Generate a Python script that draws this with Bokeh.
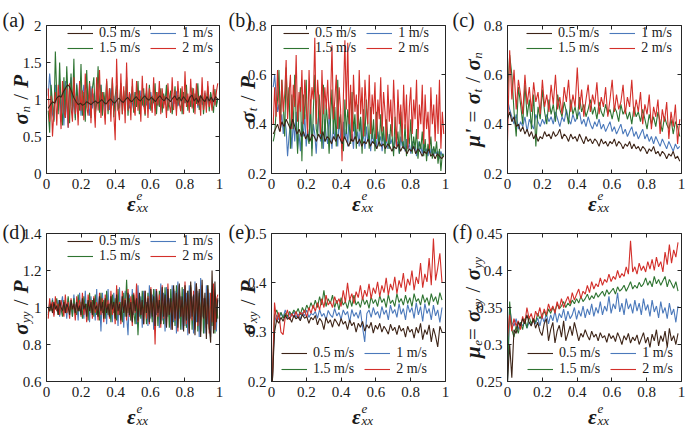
import numpy as np
from bokeh.plotting import figure
from bokeh.models import Range1d, LinearAxis, Label, Legend, LegendItem, FixedTicker, CustomJSTickFormatter
from bokeh.layouts import column, row
from bokeh.embed import file_html
from bokeh.resources import INLINE

# ---------------- data ----------------
speeds = ["0.5 m/s", "1 m/s", "1.5 m/s", "2 m/s"]
x_ticks = [0, 0.2, 0.4, 0.6, 0.8, 1]

# (a) sigma_n / P
a_05 = [0.88,0.93,0.97,0.95,1.02,1.05,1.03,1.10,1.15,1.20,1.17,1.10,1.02,0.97,0.93,0.95,0.92,0.94,0.97,0.95,
        0.93,0.96,0.98,0.95,0.97,1.00,0.96,0.94,0.98,1.01,0.97,0.95,0.99,1.02,0.98,0.96,1.00,1.03,0.99,0.97,
        1.01,1.04,1.00,0.98,1.02,1.05,1.01,0.99,1.03,1.00,0.97,1.02,1.05,1.01,0.98,1.03,1.00,0.97,1.02,1.05,
        0.99,1.03,0.98,1.04,1.00,0.96,1.03,1.06,0.98,1.02,0.96,1.05,1.00,0.97,1.04,0.98,1.03,0.97,1.04,1.00]
a_1 = [1.05,1.35,1.10,0.80,0.72,1.20,1.02,0.85,1.28,0.70,1.10,0.65,1.25,0.90,0.62,1.15,1.30,0.80,1.00,0.75,
       1.22,0.85,1.18,0.78,1.05,1.20,0.82,1.12,0.92,0.78,1.18,0.88,1.08,0.80,1.15,0.95,0.84,1.20,0.90,1.05,
       0.82,1.12,0.96,0.86,1.15,0.92,1.05,0.84,1.10,0.95,0.88,1.14,0.92,1.02,0.85,1.12,0.94,0.88,1.08,0.96,
       0.86,1.10,0.93,1.04,0.88,1.12,0.95,0.90,1.08,0.92,1.02,0.87,1.10,0.94,0.98,0.88,1.06,0.92,1.12,0.95,
       0.88,1.05,0.93,1.10,0.90,0.97,1.08,0.89,1.03,0.94,1.11,0.91,0.98,1.06,0.88,1.04,0.95,1.10,0.92,0.99,
       1.07,0.90,1.02,0.94,1.12,0.89,1.00,1.06,0.93,0.97,1.09,0.91,1.03,0.95,1.08,0.92,0.99,1.05,0.93,1.01]
a_15 = [0.85,0.55,1.20,0.95,0.70,1.65,1.05,0.80,1.50,0.90,0.65,1.30,0.75,1.45,1.00,0.68,1.35,0.85,1.55,0.72,
        1.20,0.95,0.85,1.48,0.78,1.10,0.70,1.40,0.88,1.25,0.75,1.15,1.30,0.80,0.95,1.45,0.82,1.20,0.78,1.10,
        0.92,1.25,0.80,1.15,0.88,1.28,0.76,1.05,1.20,0.85,0.95,1.22,0.80,1.12,0.90,1.30,0.78,1.08,0.95,1.18,
        0.82,1.10,0.90,1.25,0.80,1.05,0.92,1.15,0.78,1.12,0.88,1.20,0.85,1.05,0.95,1.22,0.80,1.10,0.90,1.15,
        0.82,1.08,0.95,1.20,0.85,1.02,1.12,0.80,0.98,1.18,0.86,1.06,0.92,1.15,0.80,1.10,0.95,1.20,0.85,1.04,
        0.90,1.16,0.82,1.08,0.94,1.22,0.86,1.00,1.12,0.80,1.06,0.92,1.18,0.84,1.10,0.96,0.82,1.14,0.90,1.02]
a_2 = [1.15,0.70,1.05,0.50,0.85,1.10,0.65,1.20,0.95,0.60,1.25,0.85,0.75,1.15,0.62,1.22,0.90,0.70,1.30,0.80,
       1.05,0.65,1.25,0.85,1.12,0.72,1.35,0.90,0.78,1.22,0.68,1.15,0.95,0.62,1.30,0.85,1.40,0.75,1.10,0.92,
       0.66,1.28,0.85,1.15,0.70,1.30,0.82,0.45,1.55,0.88,0.72,1.35,0.80,1.18,0.68,1.50,0.85,1.10,0.72,1.28,
       0.90,0.78,1.25,0.85,1.12,0.70,1.32,0.92,0.80,1.22,0.75,1.15,0.95,0.82,1.30,0.78,1.10,0.92,1.25,0.80,
       1.15,0.88,1.05,0.75,1.22,0.92,0.82,1.30,0.86,1.12,0.78,1.25,0.95,0.84,1.18,0.80,1.38,0.90,1.08,0.82,
       1.28,0.88,1.15,0.80,1.22,0.92,1.05,0.78,1.30,0.86,1.12,0.82,1.25,0.90,1.02,0.85,1.20,0.92,1.10,1.22]

# (b) sigma_t / P
b_05 = [0.36,0.38,0.40,0.37,0.41,0.39,0.42,0.40,0.38,0.42,0.39,0.36,0.38,0.35,0.37,0.34,0.36,0.33,0.36,0.35,
        0.33,0.36,0.34,0.37,0.33,0.35,0.34,0.32,0.35,0.33,0.36,0.34,0.32,0.35,0.33,0.31,0.34,0.33,0.35,0.32,
        0.34,0.31,0.33,0.32,0.34,0.31,0.33,0.32,0.30,0.33,0.31,0.32,0.30,0.32,0.31,0.29,0.31,0.30,0.32,0.29,
        0.31,0.30,0.28,0.30,0.29,0.31,0.28,0.30,0.29,0.27,0.29,0.28,0.30,0.27,0.28,0.26,0.28,0.27,0.26,0.27]
b_1 = [0.55,0.60,0.52,0.45,0.48,0.40,0.44,0.36,0.42,0.38,0.27,0.35,0.40,0.30,0.42,0.33,0.45,0.30,0.36,0.29,
       0.41,0.35,0.44,0.31,0.38,0.33,0.46,0.30,0.40,0.36,0.28,0.39,0.45,0.33,0.37,0.30,0.42,0.35,0.32,0.44,
       0.36,0.30,0.40,0.34,0.38,0.31,0.43,0.35,0.30,0.41,0.34,0.38,0.31,0.45,0.33,0.36,0.30,0.40,0.34,0.37,
       0.31,0.42,0.33,0.36,0.30,0.39,0.33,0.35,0.29,0.38,0.32,0.36,0.30,0.37,0.33,0.35,0.29,0.36,0.31,0.34,
       0.30,0.36,0.32,0.34,0.29,0.35,0.31,0.33,0.28,0.35,0.31,0.33,0.29,0.34,0.30,0.32,0.28,0.33,0.30,0.31,
       0.27,0.33,0.29,0.31,0.28,0.32,0.29,0.30,0.27,0.31,0.28,0.30,0.27,0.30,0.28,0.29,0.26,0.29,0.27,0.28]
b_15 = [0.33,0.36,0.45,0.50,0.62,0.40,0.58,0.48,0.35,0.63,0.45,0.55,0.30,0.52,0.38,0.60,0.42,0.28,0.48,0.55,
        0.25,0.52,0.42,0.58,0.35,0.32,0.50,0.27,0.46,0.60,0.38,0.35,0.52,0.44,0.30,0.56,0.33,0.48,0.40,0.28,
        0.42,0.54,0.36,0.47,0.31,0.58,0.38,0.44,0.34,0.29,0.50,0.36,0.46,0.40,0.32,0.53,0.37,0.44,0.30,0.48,
        0.37,0.43,0.28,0.46,0.35,0.50,0.40,0.30,0.47,0.34,0.42,0.29,0.45,0.36,0.31,0.44,0.33,0.39,0.28,0.42,
        0.34,0.30,0.40,0.35,0.27,0.43,0.32,0.37,0.28,0.45,0.33,0.30,0.40,0.27,0.36,0.32,0.42,0.28,0.35,0.30,
        0.38,0.26,0.33,0.30,0.37,0.27,0.34,0.25,0.32,0.29,0.35,0.26,0.31,0.28,0.33,0.24,0.30,0.21,0.28,0.27]
b_2 = [0.40,0.55,0.43,0.62,0.48,0.37,0.58,0.45,0.52,0.66,0.42,0.52,0.60,0.38,0.56,0.47,0.68,0.41,0.53,0.45,
       0.62,0.40,0.58,0.48,0.36,0.62,0.44,0.55,0.50,0.75,0.40,0.58,0.48,0.36,0.62,0.44,0.55,0.46,0.58,0.42,
       0.50,0.72,0.42,0.50,0.60,0.38,0.55,0.46,0.25,0.52,0.74,0.46,0.73,0.40,0.56,0.33,0.60,0.45,0.52,0.38,
       0.62,0.44,0.55,0.35,0.58,0.47,0.40,0.60,0.36,0.52,0.44,0.57,0.34,0.50,0.42,0.59,0.37,0.53,0.45,0.33,
       0.56,0.41,0.50,0.35,0.58,0.43,0.31,0.54,0.40,0.48,0.33,0.56,0.38,0.52,0.30,0.47,0.55,0.36,0.50,0.42,
       0.58,0.34,0.48,0.40,0.56,0.32,0.52,0.38,0.45,0.30,0.55,0.40,0.48,0.33,0.52,0.36,0.58,0.30,0.45,0.36]

# (c) mu' = sigma_t / sigma_n
c_05 = [0.42,0.45,0.41,0.43,0.39,0.40,0.37,0.39,0.36,0.38,0.35,0.37,0.34,0.36,0.33,0.35,0.34,0.37,0.35,0.36,
        0.34,0.37,0.35,0.36,0.38,0.34,0.36,0.35,0.33,0.36,0.34,0.35,0.33,0.36,0.34,0.32,0.35,0.33,0.34,0.32,
        0.34,0.33,0.31,0.34,0.32,0.33,0.31,0.33,0.32,0.34,0.31,0.33,0.32,0.30,0.32,0.31,0.33,0.30,0.32,0.30,
        0.31,0.29,0.31,0.30,0.28,0.30,0.29,0.31,0.28,0.29,0.27,0.29,0.28,0.26,0.28,0.27,0.29,0.26,0.27,0.25]
c_1 = [0.50,0.46,0.43,0.40,0.44,0.38,0.41,0.39,0.43,0.37,0.42,0.40,0.38,0.44,0.41,0.39,0.42,0.40,0.44,0.41,
       0.43,0.40,0.45,0.42,0.39,0.43,0.41,0.46,0.42,0.40,0.44,0.41,0.43,0.45,0.40,0.42,0.39,0.43,0.40,0.38,
       0.41,0.39,0.42,0.38,0.40,0.37,0.39,0.41,0.37,0.39,0.36,0.38,0.40,0.36,0.38,0.35,0.37,0.39,0.35,0.37,
       0.34,0.36,0.38,0.34,0.36,0.33,0.35,0.32,0.35,0.33,0.31,0.34,0.32,0.30,0.33,0.31,0.29,0.32,0.30,0.31]
c_15 = [0.52,0.68,0.60,0.45,0.35,0.55,0.48,0.40,0.56,0.43,0.50,0.38,0.52,0.31,0.47,0.42,0.54,0.45,0.40,0.50,
        0.44,0.48,0.41,0.52,0.46,0.43,0.49,0.45,0.40,0.50,0.44,0.47,0.42,0.51,0.45,0.48,0.43,0.46,0.50,0.44,
        0.47,0.42,0.49,0.45,0.43,0.48,0.44,0.46,0.42,0.47,0.45,0.41,0.48,0.44,0.46,0.42,0.45,0.40,0.47,0.43,
        0.45,0.41,0.46,0.42,0.38,0.44,0.40,0.43,0.39,0.45,0.41,0.37,0.43,0.40,0.38,0.42,0.36,0.41,0.39,0.35]
c_2 = [0.33,0.70,0.50,0.62,0.46,0.58,0.52,0.44,0.60,0.48,0.55,0.45,0.57,0.49,0.53,0.44,0.58,0.47,0.52,0.45,
       0.56,0.48,0.60,0.46,0.51,0.44,0.55,0.49,0.58,0.45,0.52,0.47,0.63,0.46,0.54,0.43,0.50,0.56,0.45,0.52,
       0.48,0.57,0.44,0.51,0.47,0.55,0.43,0.50,0.58,0.45,0.52,0.46,0.49,0.56,0.44,0.51,0.47,0.58,0.43,0.50,
       0.45,0.53,0.40,0.48,0.44,0.52,0.38,0.47,0.43,0.50,0.36,0.46,0.41,0.49,0.34,0.45,0.39,0.48,0.32,0.42]

# (d) sigma_yy / P
d_05 = [1.00,0.98,1.02,0.97,1.03,0.99,1.01,0.96,1.04,1.00,0.98,1.03,0.97,1.02,1.00,0.96,1.04,0.99,1.02,0.97,
        1.03,0.98,1.01,0.96,1.05,0.99,1.02,0.95,1.04,0.98,1.03,0.96,1.05,0.99,1.01,0.95,1.06,0.98,1.03,0.94,
        1.05,0.97,1.02,0.95,1.06,0.99,1.03,0.94,1.07,0.98,1.02,0.93,1.06,0.97,1.04,0.95,1.08,0.96,1.03,0.92,
        1.07,0.98,1.05,0.93,1.08,0.96,1.04,0.91,1.09,0.97,1.05,0.92,1.10,0.95,1.06,0.90,1.09,0.97,1.04,0.91,
        1.11,0.95,1.07,0.89,1.10,0.96,1.05,0.88,1.12,0.94,1.08,0.89,1.13,0.95,1.06,0.87,1.12,0.93,1.09,0.86,
        1.14,0.95,1.07,0.85,1.13,0.92,1.10,0.84,1.15,0.94,1.08,0.83,1.12,0.90,0.81,1.20,0.86,1.14,0.92,1.05]
d_1 = [0.97,1.03,0.99,1.05,0.96,1.02,0.98,1.04,0.95,1.01,1.06,0.97,1.03,0.94,1.05,0.99,1.02,0.95,1.07,0.98,
       1.04,0.93,1.08,0.97,1.02,0.94,1.09,0.96,1.03,0.92,1.06,0.98,1.04,0.93,1.10,0.95,1.06,0.87,1.08,0.97,
       1.04,0.91,1.10,0.95,1.06,0.92,1.08,0.97,1.03,0.90,1.11,0.94,1.06,0.89,1.09,0.96,0.85,1.07,0.93,1.10,
       0.96,1.04,0.91,1.12,0.95,1.06,0.89,1.09,0.97,1.03,0.90,1.12,0.94,1.07,0.88,1.10,0.96,1.04,0.89,1.13,
       0.93,1.08,0.87,1.11,0.95,1.05,0.88,1.12,0.92,1.09,0.86,1.14,0.94,1.06,0.88,1.10,0.90,1.08,0.85,1.12,
       0.94,1.06,0.86,1.14,0.92,1.09,0.84,1.16,0.95,1.05,0.86,1.12,0.91,1.08,0.84,1.10,0.93,1.05,0.87,1.04]
d_15 = [0.96,1.02,0.98,1.04,0.97,1.01,1.05,0.96,1.03,0.99,0.95,1.04,1.00,0.97,1.06,0.98,1.02,0.95,1.05,0.99,
        0.96,1.07,0.98,1.03,0.94,1.06,0.99,1.02,0.93,1.08,0.97,1.04,0.95,1.07,0.96,1.02,0.93,1.08,0.97,1.04,
        0.94,1.09,0.96,1.02,0.92,1.07,0.97,1.05,0.93,1.10,0.96,1.03,0.92,1.08,0.95,1.15,0.97,1.05,0.93,1.07,
        0.98,0.91,1.06,0.85,1.04,0.94,1.09,0.97,1.03,0.91,1.08,0.96,1.04,0.92,1.10,0.95,1.06,0.90,1.09,0.97,
        1.03,0.91,1.11,0.94,1.06,0.89,1.10,0.96,1.04,0.90,1.12,0.93,1.07,0.88,1.11,0.95,1.05,0.89,1.09,0.94,
        1.12,0.88,1.06,0.91,1.13,0.87,1.08,0.93,1.10,0.86,1.05,0.92,1.12,0.88,1.07,0.90,1.11,0.86,1.04,0.94]
d_2 = [0.94,1.05,0.99,1.03,0.95,1.06,0.98,1.02,0.96,1.04,1.00,0.95,1.07,0.97,1.03,0.94,1.05,0.99,1.02,0.93,
       1.06,0.98,1.04,0.95,1.08,0.96,1.02,0.92,1.07,0.99,1.04,0.94,1.06,0.97,1.03,0.93,1.08,0.96,1.05,0.92,
       1.07,0.98,1.04,0.94,1.09,0.96,1.02,0.91,1.12,0.96,1.03,0.91,1.09,0.98,1.05,0.93,1.10,0.95,1.06,0.90,
       1.08,0.97,1.13,0.92,1.05,0.96,1.03,0.91,1.09,0.94,1.06,0.91,1.11,0.97,1.04,0.80,1.10,0.95,1.07,0.89,
       1.12,0.94,1.05,0.90,1.13,0.96,1.03,0.88,1.10,0.93,1.08,0.87,1.12,0.95,1.04,0.89,1.14,0.91,1.07,0.86,
       1.11,0.93,1.09,0.88,1.13,0.90,1.06,0.87,1.12,0.94,1.05,0.89,1.10,0.86,1.08,0.92,1.13,0.88,1.04,1.07]

# (e) sigma_xy / P  (first samples drop to the bottom edge)
e_05 = [0.200,0.300,0.325,0.318,0.330,0.322,0.335,0.326,0.330,0.320,0.334,0.327,0.331,0.323,0.336,0.328,0.332,0.318,0.330,0.325,
        0.334,0.315,0.328,0.322,0.305,0.330,0.318,0.325,0.310,0.327,0.320,0.312,0.328,0.316,0.322,0.305,0.325,0.313,0.320,0.300,
        0.318,0.310,0.322,0.302,0.315,0.308,0.320,0.298,0.314,0.306,0.318,0.300,0.312,0.305,0.296,0.316,0.303,0.310,0.295,0.314,
        0.302,0.308,0.290,0.312,0.300,0.306,0.288,0.310,0.298,0.318,0.285,0.305,0.295,0.315,0.280,0.308,0.292,0.270,0.312,0.300]
e_1 = [0.200,0.320,0.335,0.325,0.340,0.330,0.345,0.328,0.338,0.332,0.342,0.330,0.337,0.326,0.340,0.333,0.345,0.330,0.338,0.335,
       0.342,0.328,0.346,0.332,0.338,0.325,0.344,0.335,0.330,0.348,0.333,0.340,0.326,0.345,0.335,0.342,0.320,0.346,0.332,0.340,
       0.328,0.345,0.310,0.280,0.338,0.345,0.330,0.350,0.335,0.342,0.328,0.352,0.336,0.345,0.325,0.355,0.338,0.346,0.330,0.358,
       0.336,0.348,0.325,0.356,0.340,0.350,0.328,0.360,0.335,0.352,0.322,0.358,0.338,0.348,0.325,0.355,0.333,0.345,0.320,0.350]
e_15 = [0.200,0.335,0.345,0.330,0.340,0.328,0.338,0.332,0.342,0.335,0.345,0.338,0.348,0.335,0.350,0.340,0.355,0.345,0.360,0.348,
        0.365,0.350,0.372,0.355,0.385,0.352,0.368,0.358,0.375,0.350,0.365,0.345,0.370,0.355,0.362,0.348,0.368,0.352,0.375,0.355,
        0.362,0.350,0.370,0.356,0.365,0.348,0.372,0.358,0.366,0.352,0.374,0.360,0.368,0.350,0.376,0.358,0.365,0.352,0.378,0.360,
        0.368,0.355,0.375,0.358,0.370,0.352,0.378,0.362,0.368,0.355,0.376,0.360,0.370,0.354,0.378,0.362,0.372,0.356,0.380,0.365]
e_2 = [0.200,0.360,0.320,0.340,0.300,0.295,0.330,0.345,0.325,0.338,0.330,0.342,0.328,0.340,0.335,0.345,0.330,0.350,0.338,0.355,
       0.342,0.360,0.345,0.368,0.350,0.375,0.355,0.362,0.350,0.372,0.358,0.368,0.352,0.385,0.360,0.400,0.365,0.378,0.358,0.382,
       0.370,0.395,0.365,0.385,0.372,0.398,0.368,0.390,0.378,0.402,0.372,0.395,0.380,0.410,0.375,0.398,0.385,0.412,0.378,0.405,
       0.390,0.420,0.382,0.408,0.395,0.425,0.385,0.412,0.398,0.440,0.390,0.418,0.402,0.450,0.395,0.490,0.405,0.430,0.460,0.400]

# (f) mu_e = sigma_xy / sigma_yy
f_05 = [0.250,0.300,0.255,0.320,0.315,0.330,0.325,0.335,0.328,0.340,0.330,0.325,0.335,0.322,0.330,0.318,0.312,0.328,0.335,0.305,
        0.320,0.330,0.302,0.318,0.326,0.310,0.332,0.305,0.315,0.325,0.312,0.330,0.318,0.305,0.315,0.310,0.320,0.312,0.306,0.318,
        0.310,0.314,0.305,0.316,0.309,0.312,0.303,0.315,0.308,0.312,0.304,0.316,0.309,0.300,0.312,0.306,0.315,0.302,0.310,0.305,
        0.313,0.300,0.308,0.316,0.302,0.310,0.296,0.314,0.305,0.320,0.298,0.312,0.304,0.318,0.296,0.322,0.305,0.312,0.300,0.315]
f_1 = [0.250,0.350,0.330,0.325,0.335,0.320,0.330,0.325,0.332,0.322,0.330,0.326,0.334,0.328,0.336,0.325,0.338,0.330,0.342,0.328,
       0.340,0.332,0.345,0.330,0.342,0.336,0.348,0.332,0.345,0.335,0.340,0.350,0.334,0.346,0.338,0.352,0.336,0.348,0.340,0.355,
       0.338,0.350,0.342,0.358,0.340,0.352,0.345,0.365,0.342,0.355,0.348,0.370,0.344,0.356,0.340,0.362,0.348,0.355,0.342,0.360,
       0.345,0.356,0.340,0.362,0.346,0.354,0.338,0.360,0.344,0.352,0.336,0.358,0.342,0.350,0.335,0.356,0.340,0.348,0.330,0.352]
f_15 = [0.250,0.358,0.320,0.310,0.325,0.315,0.330,0.320,0.335,0.322,0.338,0.328,0.335,0.330,0.342,0.335,0.340,0.345,0.338,0.348,
        0.342,0.350,0.345,0.355,0.348,0.352,0.358,0.350,0.356,0.352,0.360,0.355,0.362,0.356,0.365,0.358,0.362,0.368,0.360,0.366,
        0.362,0.370,0.364,0.368,0.372,0.365,0.374,0.368,0.372,0.376,0.368,0.378,0.372,0.375,0.380,0.372,0.378,0.385,0.375,0.380,
        0.376,0.384,0.378,0.382,0.390,0.380,0.386,0.378,0.392,0.382,0.388,0.380,0.386,0.392,0.378,0.388,0.382,0.376,0.385,0.372]
f_2 = [0.310,0.340,0.318,0.335,0.325,0.332,0.320,0.338,0.328,0.350,0.335,0.342,0.330,0.345,0.338,0.350,0.335,0.348,0.340,0.355,
       0.345,0.352,0.342,0.358,0.348,0.362,0.350,0.358,0.365,0.355,0.370,0.360,0.368,0.375,0.362,0.372,0.368,0.380,0.370,0.385,
       0.375,0.382,0.378,0.390,0.380,0.388,0.384,0.395,0.385,0.392,0.388,0.400,0.390,0.396,0.392,0.405,0.395,0.440,0.398,0.405,
       0.395,0.410,0.400,0.406,0.398,0.412,0.402,0.415,0.400,0.418,0.405,0.412,0.398,0.425,0.408,0.435,0.410,0.428,0.418,0.438]

# ---------------- style ----------------
COLORS = {"0.5 m/s": "#3d2417", "1 m/s": "#4b79bb", "1.5 m/s": "#2e7431", "2 m/s": "#d32f2a"}
SERIF = "Liberation Serif"
TXT = "#1a1a1a"
FRAME = "#262626"
# per column: figure width, space left of the axes box, box width, space right
CW = [228, 224, 233]; BL = [46, 43, 55]; FW = [173, 174, 174]; BR = [9, 7, 4]
# per row: figure height, space above box, space below box
RH = [213, 213]; BT = [25, 20]; BB = [40, 45]; FH = 148

WID = {'σ': 0.56, 'μ': 0.58, 'P': 0.62, 'ε': 0.45, '/': 0.28, ' ': 0.3, '=': 0.56, "'": 0.28,
       'n': 0.5, 't': 0.28, 'e': 0.44, 'x': 0.44, 'y': 0.44}


def tw(s, size):
    return sum(WID.get(ch, 0.5) for ch in s) * size


def put(p, c, yr, text, px, py, size, style, angle):
    if not text.strip():
        return
    sx = 1.0 / FW[c]
    sy = (yr[1] - yr[0]) / FH
    p.add_layout(Label(x=px * sx, y=yr[0] + py * sy, x_units="data", y_units="data",
                       text=text, angle=angle, text_font=SERIF, text_font_size=f"{size}px",
                       text_font_style=style, text_color=TXT, text_baseline="alphabetic",
                       text_align="left"))


def rich(p, c, yr, pieces, center, base, vertical):
    """pieces: (text, style, size, shift_px, advance); blank pieces only advance"""
    pos = []
    cur = 0.0
    for t, st, sz, sh, adv in pieces:
        pos.append(cur)
        if adv:
            cur += tw(t, sz)
    start = center - cur / 2
    for (t, st, sz, sh, adv), d in zip(pieces, pos):
        if vertical:
            put(p, c, yr, t, base - sh, start + d, sz, st, np.pi / 2)
        else:
            put(p, c, yr, t, start + d, base + sh, sz, st, 0)


F = 21
S = 13
BI = "bold italic"
IT = "italic"
NO = "normal"
GAP = (" ", NO, F, 0, True)


def sig_over_P(sub):
    return [("σ", BI, F, 0, True), (sub, IT, S, -5, True), GAP, ("/", NO, F, 0, True), GAP,
            ("P", BI, F, 0, True)]


YLABELS = {
    "a": sig_over_P("n"),
    "b": sig_over_P("t"),
    "c": [("μ", BI, F, 0, True), ("'", BI, F, 0, True), GAP, ("=", NO, F, 0, True), GAP,
          ("σ", BI, F, 0, True), ("t", IT, S, -5, True), GAP, ("/", NO, F, 0, True), GAP,
          ("σ", BI, F, 0, True), ("n", IT, S, -5, True)],
    "d": sig_over_P("yy"),
    "e": sig_over_P("xy"),
    "f": [("μ", BI, F, 0, True), ("e", IT, S, -5, True), ("=", NO, F, 0, True), GAP,
          ("σ", BI, F, 0, True), ("xy", IT, S, -5, True), GAP, ("/", NO, F, 0, True), GAP,
          ("σ", BI, F, 0, True), ("yy", IT, S, -5, True)],
}
XLABEL = [("ε", BI, F, 0, True), ("e", IT, S, 8, False), ("xx", IT, S, -4, True)]


def make_panel(key, c, r, yr, yticks, series, x0, x1, leg_x, leg_top):
    dx = 1.0 / FW[c]
    dy = (yr[1] - yr[0]) / FH
    p = figure(width=CW[c], height=RH[r],
               x_range=Range1d(-BL[c] * dx, 1 + BR[c] * dx),
               y_range=Range1d(yr[0] - BB[r] * dy, yr[1] + BT[r] * dy),
               x_axis_location=None, y_axis_location=None,
               output_backend="svg", toolbar_location=None, title=None,
               min_border=0, outline_line_color=None,
               background_fill_color="white", border_fill_color="white")
    for g in p.grid:
        g.visible = False

    specs = (("below", yr[0], x_ticks, (0, 1), True),
             ("above", yr[1], x_ticks, (0, 1), False),
             ("left", 0, yticks, yr, True),
             ("right", 1, yticks, yr, False))
    for side, loc, ticks, bnds, show in specs:
        code = "return Number(tick.toFixed(2)).toString();" if show else "return '';"
        ax = LinearAxis(fixed_location=loc, bounds=bnds, ticker=FixedTicker(ticks=ticks),
                        formatter=CustomJSTickFormatter(code=code),
                        major_tick_in=4, major_tick_out=0, minor_tick_in=0, minor_tick_out=0,
                        axis_line_color=FRAME, major_tick_line_color=FRAME,
                        major_label_text_font=SERIF,
                        major_label_text_font_size="15px" if show else "1px",
                        major_label_text_color=TXT, major_label_standoff=5 if show else 0)
        p.add_layout(ax, side)

    rend = {}
    for name in ["1 m/s", "1.5 m/s", "2 m/s", "0.5 m/s"]:
        vals = series[name]
        xs = np.linspace(x0, x1, len(vals))
        rend[name] = p.line(xs, vals, line_color=COLORS[name], line_width=1.1)

    rows_ = [["0.5 m/s", "1 m/s"], ["1.5 m/s", "2 m/s"]]
    for i, names in enumerate(rows_):
        if leg_top < 0:
            center_from_bottom = -leg_top - i * 15.5
        else:
            center_from_bottom = FH - (leg_top + i * 15.5)
        lg = Legend(items=[LegendItem(label=n, renderers=[rend[n]]) for n in names],
                    orientation="horizontal",
                    location=(BL[c] + leg_x, BB[r] + center_from_bottom - 7),
                    glyph_width=26, glyph_height=14, label_height=14, label_width=10,
                    label_standoff=6, spacing=10, padding=0, margin=0,
                    border_line_alpha=0, background_fill_alpha=0,
                    label_text_font=SERIF, label_text_font_size="14px", label_text_color=TXT,
                    label_text_baseline="middle")
        p.add_layout(lg)

    ybase = {0: -26, 1: -24, 2: -35}[c]
    rich(p, c, yr, YLABELS[key], FH / 2, ybase, True)
    rich(p, c, yr, XLABEL, 91, -30 if r == 0 else -35, False)
    letter_x = {0: -44, 1: -43, 2: -55}[c]
    put(p, c, yr, f"({key})", letter_x, FH + 6 if r == 0 else FH + 2, 20, NO, 0)
    return p


pa = make_panel("a", 0, 0, (0, 2), [0, 0.5, 1, 1.5, 2],
                {"0.5 m/s": a_05, "1 m/s": a_1, "1.5 m/s": a_15, "2 m/s": a_2}, 0.01, 0.99, 21, 8.7)
pb = make_panel("b", 1, 0, (0.2, 0.8), [0.2, 0.4, 0.6, 0.8],
                {"0.5 m/s": b_05, "1 m/s": b_1, "1.5 m/s": b_15, "2 m/s": b_2}, 0.01, 0.99, 12, 8.7)
pc = make_panel("c", 2, 0, (0.2, 0.8), [0.2, 0.4, 0.6, 0.8],
                {"0.5 m/s": c_05, "1 m/s": c_1, "1.5 m/s": c_15, "2 m/s": c_2}, 0.0, 0.99, 19, 8.7)
pd_ = make_panel("d", 0, 1, (0.6, 1.4), [0.6, 0.8, 1, 1.2, 1.4],
                 {"0.5 m/s": d_05, "1 m/s": d_1, "1.5 m/s": d_15, "2 m/s": d_2}, 0.01, 0.99, 21, 8.7)
pe = make_panel("e", 1, 1, (0.2, 0.5), [0.2, 0.3, 0.4, 0.5],
                {"0.5 m/s": e_05, "1 m/s": e_1, "1.5 m/s": e_15, "2 m/s": e_2}, 0.005, 0.98, 10, -27)
pf = make_panel("f", 2, 1, (0.25, 0.45), [0.25, 0.3, 0.35, 0.4, 0.45],
                {"0.5 m/s": f_05, "1 m/s": f_1, "1.5 m/s": f_15, "2 m/s": f_2}, 0.0, 0.98, 20, -27)

layout = column(row(pa, pb, pc), row(pd_, pe, pf))
open("out.html", "w").write(file_html(layout, INLINE))
